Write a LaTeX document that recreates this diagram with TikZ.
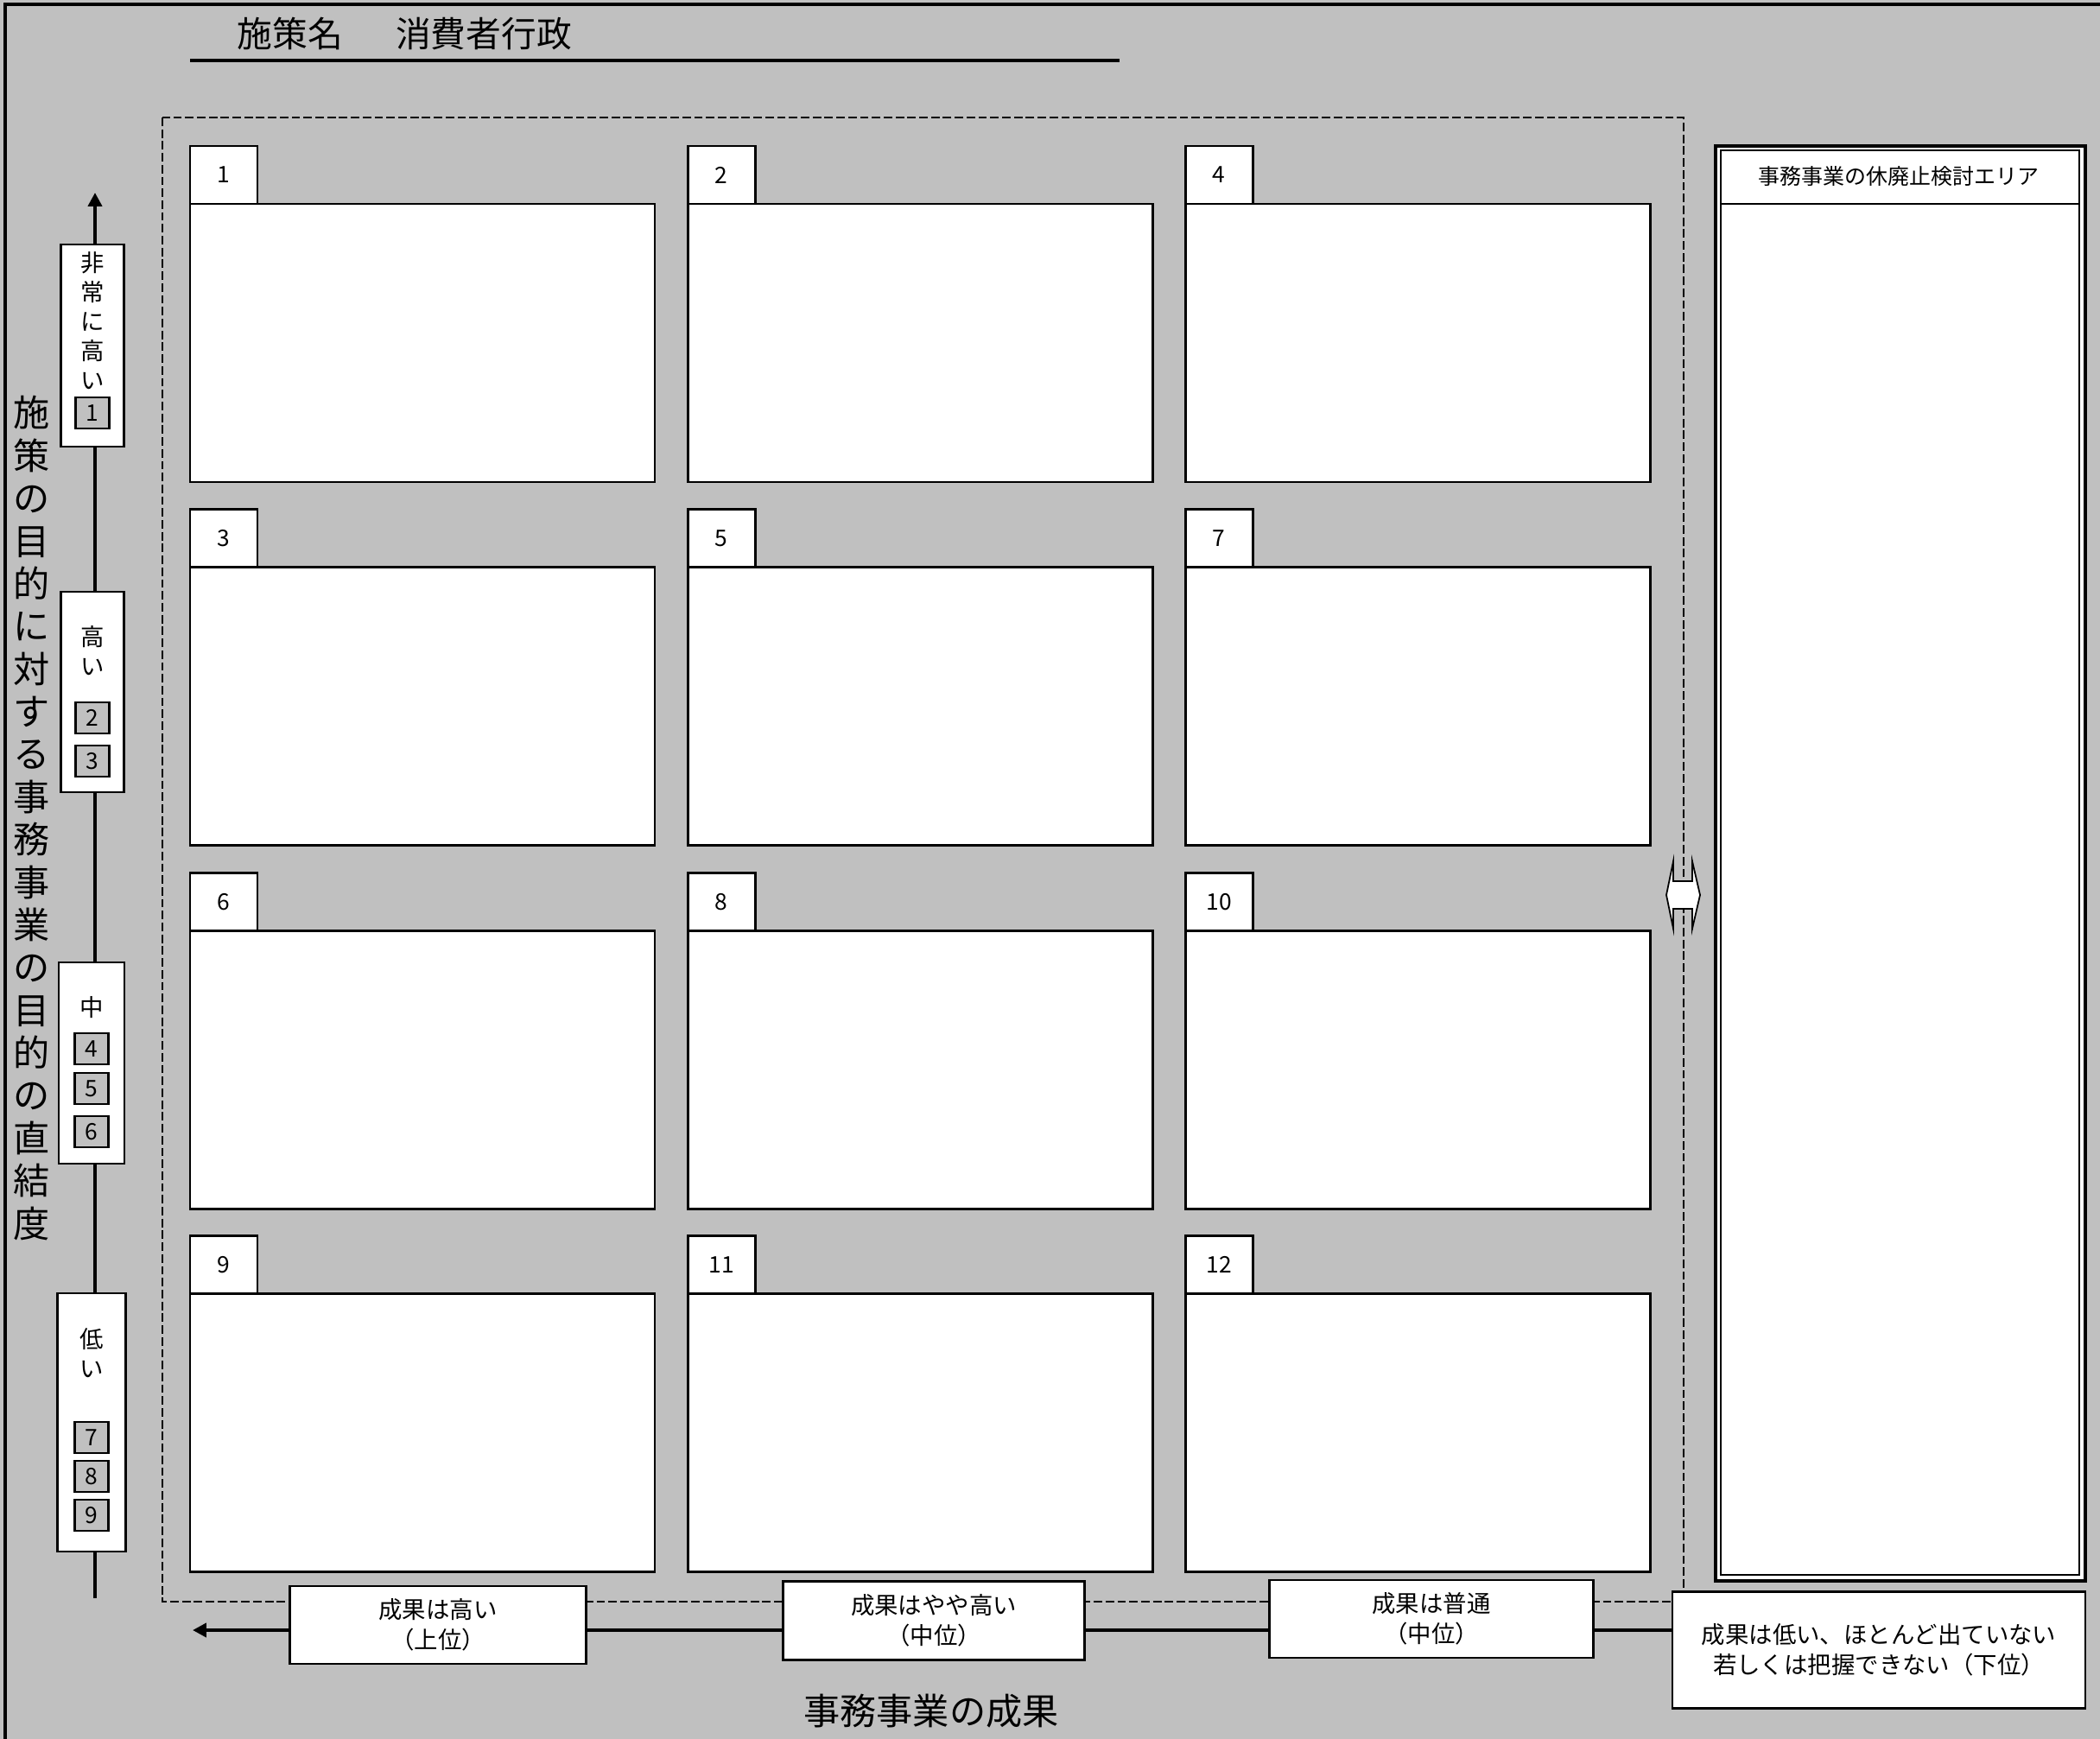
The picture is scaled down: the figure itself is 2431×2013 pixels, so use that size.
\documentclass[tikz,border=0pt]{standalone}
\usepackage{fontspec}
\setmainfont{Noto Sans CJK JP}
\usetikzlibrary{arrows.meta}
\definecolor{bggray}{HTML}{C0C0C0}
\newcommand\myfs[2]{\fontsize{#1}{#2}\selectfont}
\begin{document}
\begin{tikzpicture}[x=0.1mm,y=-0.1mm,
 card/.style={draw, fill=white, line width=0.85pt, minimum width=53.8mm, minimum height=32.2mm, inner sep=0, outer sep=0},
 tabbox/.style={draw, fill=white, line width=0.85pt, minimum width=7.8mm, minimum height=6.7mm, inner sep=0, outer sep=0, font=\myfs{7.5}{9}},
 lvlbox/.style={draw, fill=white, line width=0.6pt, inner sep=0, anchor=north},
 numbox/.style={draw, fill=bggray, line width=0.6pt, minimum width=3.9mm, minimum height=3.6mm, inner sep=0, font=\myfs{7.5}{9}},
 lvltext/.style={align=center, inner sep=0, font=\myfs{7.8}{9.7}},
 resbox/.style={draw, fill=white, line width=0.6pt, inner sep=0, align=center, font=\myfs{7.8}{10}},
 axis/.style={line width=1.3pt, -{Triangle[length=4.5pt,width=4.5pt]}},
 dashedframe/.style={line width=0.6pt, dash pattern=on 2.8pt off 1.1pt},
]
% background and frame
\fill[bggray] (0,0) rectangle (2431,2013);
\useasboundingbox (0,0) rectangle (2431,2013);
\draw[line width=1pt] (6,2013) -- (6,5) -- (2431,5);

% title
\node[anchor=west, inner sep=0, font=\myfs{11.6}{14}] (title) at (274,39) {施策名\hspace{1.5em}消費者行政};
\coordinate (ulL) at (220,70);
\coordinate (ulR) at (1296,70);
\draw[line width=1.2pt] (ulL) -- (ulR);

% dashed frame
\draw[dashedframe] (188,136) rectangle (1949,1854);

% cards
\foreach \r/\c/\n in {0/0/1,0/1/2,0/2/4,1/0/3,1/1/5,1/2/7,2/0/6,2/1/8,2/2/10,3/0/9,3/1/11,3/2/12}{
  \pgfmathsetmacro\xl{220+576*\c}
  \pgfmathsetmacro\yb{236+420.6*\r}
  \node[card, anchor=north west] (card\n) at (\xl,\yb) {};
  \node[tabbox, anchor=south west] (tab\n) at (\xl,\yb) {\n};
}

% right panel
\node[draw, fill=white, line width=1pt, minimum width=42.8mm, minimum height=166.1mm, inner sep=0, anchor=north west] (panelout) at (1984,167) {};
\node[draw, line width=0.6pt, minimum width=41.5mm, minimum height=164.9mm, inner sep=0, anchor=north west] (panelin) at (1991,173) {};
\coordinate (hsepL) at (1991,236);
\coordinate (hsepR) at (2406,236);
\draw[line width=0.85pt] (hsepL) -- (hsepR);
\node[inner sep=0, font=\myfs{7.1}{9}] (panelhead) at (2198,204) {事務事業の休廃止検討エリア};

% double arrow
\draw[fill=white, line width=0.5pt, line join=miter]
  (1929,1036) -- (1937,997) -- (1937,1020) -- (1959,1020) -- (1959,997) -- (1968,1036)
  -- (1959,1075) -- (1959,1052) -- (1937,1052) -- (1937,1075) -- cycle;

% vertical axis
\coordinate (vaxb) at (110,1850);
\coordinate (vaxt) at (110,223);
\draw[axis] (vaxb) -- (vaxt);

\node[lvlbox, minimum width=7.3mm, minimum height=23.4mm] (lv1) at (107,282) {};
\node[lvltext] (lv1t) at (107,371) {非\\常\\に\\高\\い};
\node[numbox] (n1) at (107,478) {1};

\node[lvlbox, minimum width=7.3mm, minimum height=23.2mm] (lv2) at (107,684) {};
\node[lvltext] (lv2t) at (107,753) {高\\い};
\node[numbox] (n2) at (107,831) {2};
\node[numbox] (n3) at (107,881) {3};

\node[lvlbox, minimum width=7.6mm, minimum height=23.3mm] (lv3) at (106,1113) {};
\node[lvltext] (lv3t) at (106,1166) {中};
\node[numbox] (n4) at (106,1214) {4};
\node[numbox] (n5) at (106,1260) {5};
\node[numbox] (n6) at (106,1310) {6};

\node[lvlbox, minimum width=7.9mm, minimum height=29.9mm] (lv4) at (106,1496) {};
\node[lvltext] (lv4t) at (106,1566) {低\\い};
\node[numbox] (n7) at (106,1664) {7};
\node[numbox] (n8) at (106,1709) {8};
\node[numbox] (n9) at (106,1754) {9};

% vertical axis title
\node[align=center, inner sep=0, font=\myfs{12}{14.05}] (vtitle) at (37,947)
 {施\\策\\の\\目\\的\\に\\対\\す\\る\\事\\務\\事\\業\\の\\目\\的\\の\\直\\結\\度};

% horizontal axis
\coordinate (haxr) at (1940,1887);
\coordinate (haxl) at (223,1887);
\draw[axis] (haxr) -- (haxl);

\node[resbox, minimum width=34.3mm, minimum height=9.0mm] (b1) at (507,1881) {成果は高い\\（上位）};
\node[resbox, minimum width=34.9mm, minimum height=9.1mm] (b2) at (1081,1876) {成果はやや高い\\（中位）};
\node[resbox, minimum width=37.5mm, minimum height=9.0mm] (b3) at (1657,1874) {成果は普通\\（中位）};
\node[resbox, minimum width=47.8mm, minimum height=13.5mm] (b4) at (2175,1910) {成果は低い、ほとんど出ていない\\若しくは把握できない（下位）};

\node[inner sep=0, font=\myfs{12}{14}] (htitle) at (1078,1981) {事務事業の成果};
\end{tikzpicture}
\end{document}
